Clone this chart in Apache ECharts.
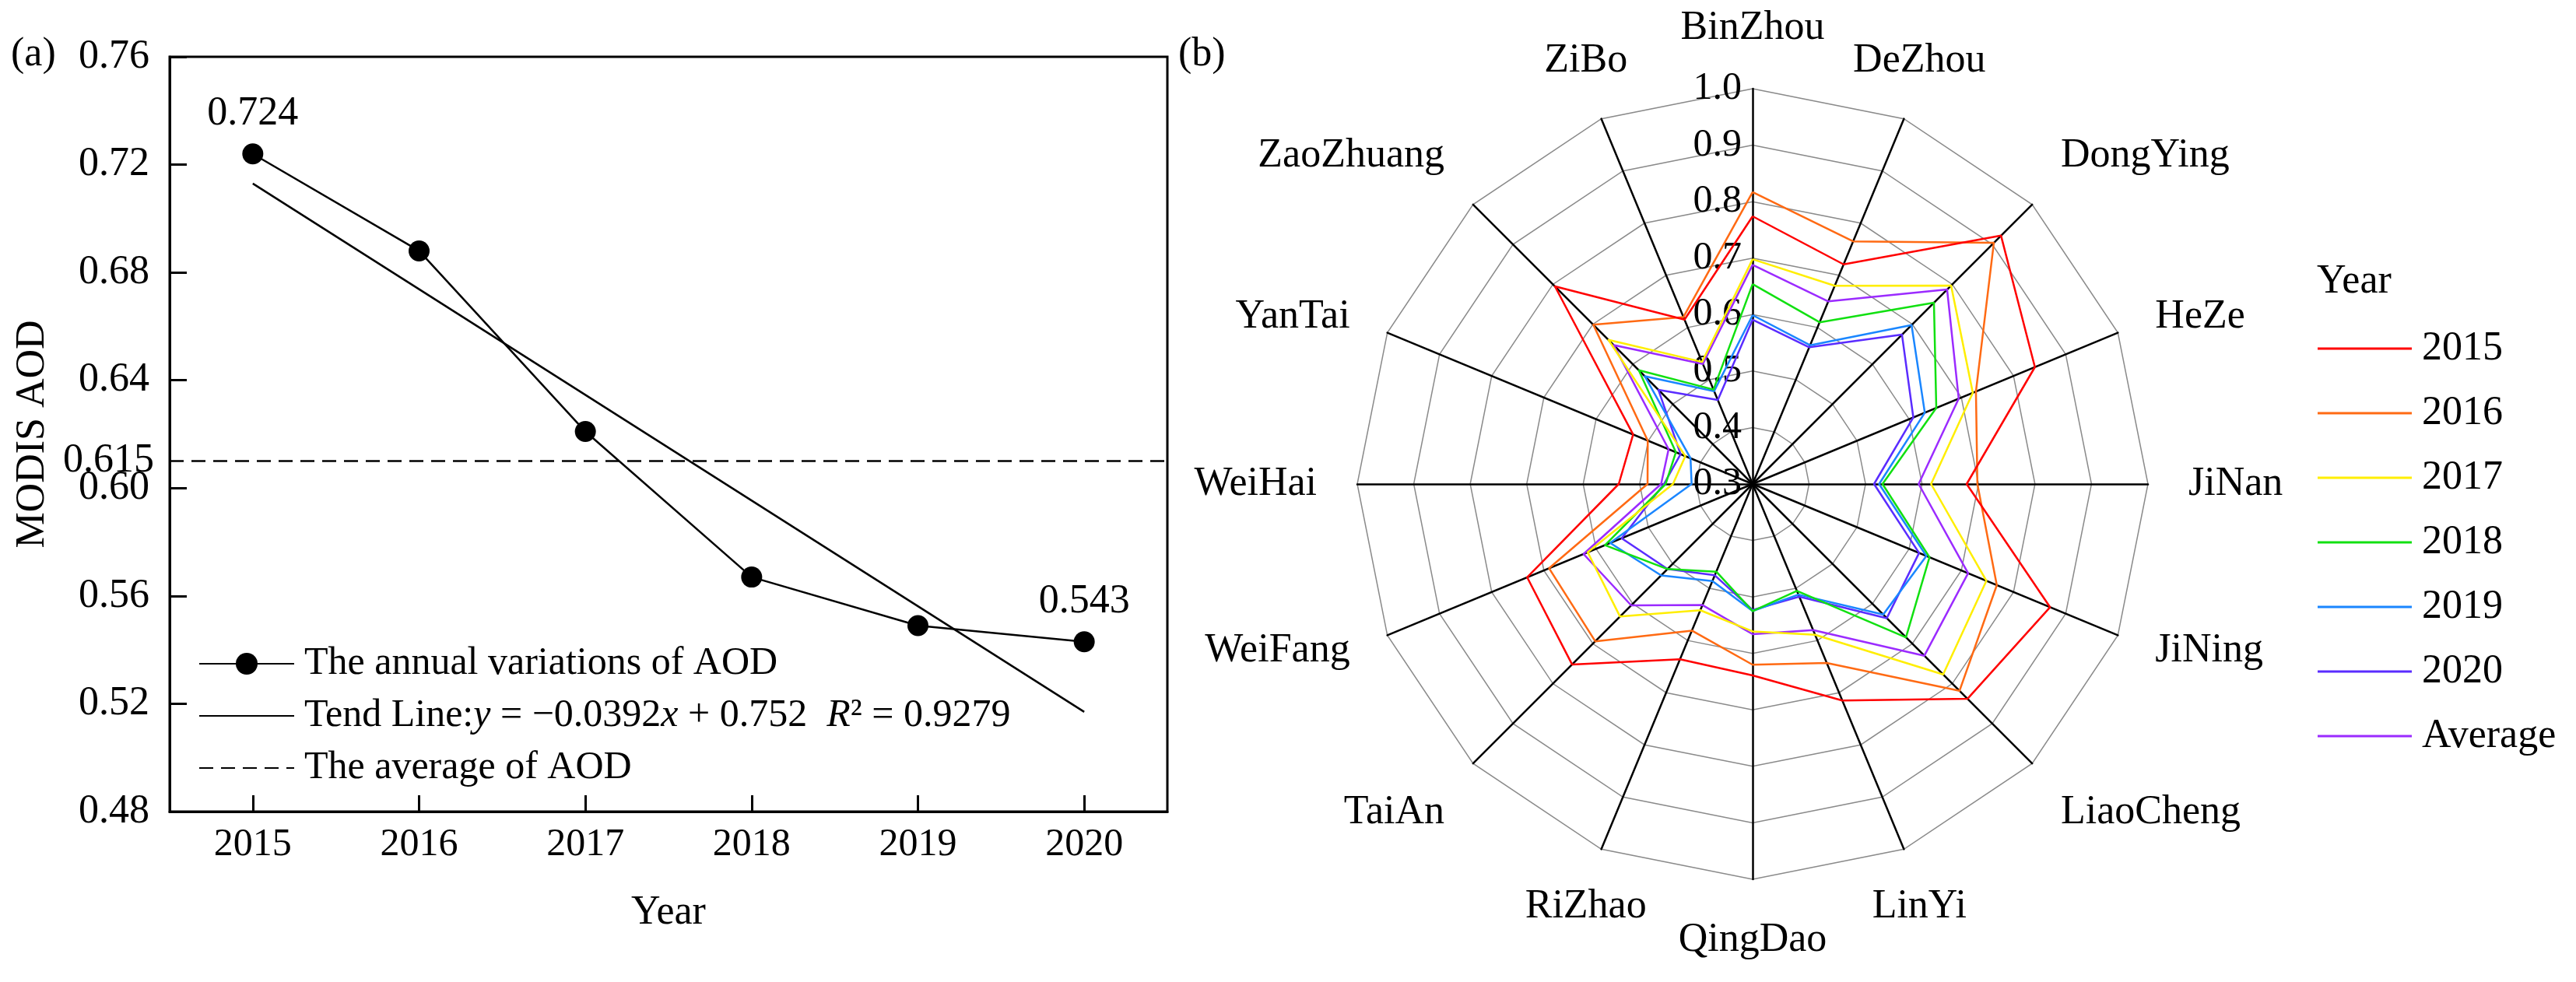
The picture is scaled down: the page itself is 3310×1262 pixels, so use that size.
<!DOCTYPE html>
<html>
<head>
<meta charset="utf-8">
<script src="https://cdn.jsdelivr.net/npm/echarts@6.0.0/dist/echarts.min.js"></script>
<style>
html,body{margin:0;padding:0;background:#fff;}
#chart{width:3310px;height:1262px;}
</style>
</head>
<body>
<div id="chart"></div>
<script>
// ---------- Panel (a) data ----------
const years = ['2015', '2016', '2017', '2018', '2019', '2020'];
const aodValues = [0.724, 0.688, 0.621, 0.567, 0.549, 0.543];
const trendValues = [0.713, null, null, null, null, 0.517];
const aodAverage = 0.615;
const yMin = 0.48, yMax = 0.76, yStep = 0.04;

// ---------- Panel (b) data (clockwise from top) ----------
const cities = ['BinZhou', 'DeZhou', 'DongYing', 'HeZe', 'JiNan', 'JiNing', 'LiaoCheng', 'LinYi',
  'QingDao', 'RiZhao', 'TaiAn', 'WeiFang', 'WeiHai', 'YanTai', 'ZaoZhuang', 'ZiBo'];
const radarNames = ['2015', '2016', '2017', '2018', '2019', '2020', 'Average'];
const aod2015 = [0.774, 0.721, 0.922, 0.841, 0.679, 0.870, 0.838, 0.715, 0.639, 0.636, 0.752, 0.732, 0.537, 0.529, 0.795, 0.615];
const aod2016 = [0.817, 0.765, 0.904, 0.728, 0.698, 0.768, 0.818, 0.643, 0.620, 0.581, 0.694, 0.690, 0.486, 0.501, 0.699, 0.620];
const aod2017 = [0.698, 0.680, 0.797, 0.722, 0.616, 0.748, 0.777, 0.589, 0.561, 0.542, 0.632, 0.616, 0.441, 0.429, 0.661, 0.534];
const aod2018 = [0.654, 0.610, 0.754, 0.652, 0.530, 0.639, 0.684, 0.505, 0.525, 0.468, 0.513, 0.583, 0.454, 0.447, 0.585, 0.481];
const aod2019 = [0.599, 0.566, 0.698, 0.630, 0.524, 0.633, 0.627, 0.512, 0.525, 0.486, 0.529, 0.573, 0.408, 0.419, 0.570, 0.478];
const aod2020 = [0.591, 0.562, 0.674, 0.608, 0.515, 0.619, 0.636, 0.516, 0.523, 0.475, 0.513, 0.551, 0.457, 0.438, 0.536, 0.461];
const aodMean = [0.688, 0.650, 0.787, 0.695, 0.594, 0.713, 0.730, 0.580, 0.566, 0.532, 0.604, 0.624, 0.462, 0.461, 0.648, 0.530];
const radarMin = 0.3, radarMax = 1.0;

const radarSeriesValues = [aod2015, aod2016, aod2017, aod2018, aod2019, aod2020, aodMean];
const radarColors = ['#ff0000', '#ff6a13', '#ffee00', '#11e011', '#1a86ff', '#5a2cff', '#9b2bff'];

const FONT = "'Liberation Serif', 'Times New Roman', serif";

// ECharts radar runs counter-clockwise; reorder to get clockwise layout
const order = [0];
for (let i = cities.length - 1; i >= 1; i--) order.push(i);
const reorder = arr => order.map(i => arr[i]);

const indicators = order.map((ci, j) => {
  const ang = (90 + 360 / cities.length * j) * Math.PI / 180;
  const c = Math.cos(ang), s = Math.sin(ang);
  const align = Math.abs(c) < 0.5 ? 'center' : (c > 0 ? 'left' : 'right');
  const vAlign = s > 0.5 ? 'bottom' : (s < -0.5 ? 'top' : 'middle');
  const ind = {
    name: cities[ci], min: radarMin, max: radarMax,
    nameTextStyle: { align: align, verticalAlign: vAlign }
  };
  if (j === 0) ind.axisLabel = { show: true };
  return ind;
});

const chart = echarts.init(document.getElementById('chart'), null, { renderer: 'canvas' });

const option = {
  backgroundColor: '#fff',
  animation: false,
  textStyle: { fontFamily: FONT, color: '#000' },
  graphic: [
    { type: 'text', left: 14, top: 44, style: { text: '(a)', font: "52px " + FONT, fill: '#000' } },
    { type: 'text', left: 1514, top: 44, style: { text: '(b)', font: "52px " + FONT, fill: '#000' } },
    { type: 'text', left: 2977, top: 336, style: { text: 'Year', font: "52px " + FONT, fill: '#000' } }
  ],
  grid: {
    left: 218, top: 73, width: 1282, height: 970,
    show: true, borderColor: '#000', borderWidth: 3, backgroundColor: 'transparent'
  },
  xAxis: {
    type: 'category', data: years, boundaryGap: true,
    name: 'Year', nameLocation: 'middle', nameGap: 104,
    nameTextStyle: { fontFamily: FONT, fontSize: 52, color: '#000' },
    axisLine: { lineStyle: { color: '#000', width: 3 } },
    axisTick: { show: true, inside: true, alignWithLabel: true, length: 21, lineStyle: { color: '#000', width: 3 } },
    axisLabel: { fontFamily: FONT, fontSize: 50, color: '#000', margin: 18 },
    splitLine: { show: false }
  },
  yAxis: {
    type: 'value', min: yMin, max: yMax, interval: yStep,
    name: 'MODIS AOD', nameLocation: 'middle', nameGap: 150, nameRotate: 90,
    nameTextStyle: { fontFamily: FONT, fontSize: 52, color: '#000' },
    axisLine: { show: true, lineStyle: { color: '#000', width: 3 } },
    axisTick: { show: true, inside: true, length: 22, lineStyle: { color: '#000', width: 3 } },
    axisLabel: { fontFamily: FONT, fontSize: 52, color: '#000', margin: 26, formatter: v => v.toFixed(2) },
    splitLine: { show: false }
  },
  radar: {
    center: [2252, 622], radius: 508, startAngle: 90, splitNumber: 7, shape: 'polygon',
    indicator: indicators,
    nameGap: 52,
    axisName: { color: '#000', fontFamily: FONT, fontSize: 52 },
    axisLine: { lineStyle: { color: '#000', width: 2.5 } },
    splitLine: { lineStyle: { color: '#8a8a8a', width: 1.5 } },
    splitArea: { show: false },
    axisTick: { show: false },
    axisLabel: { show: false, color: '#000', fontFamily: FONT, fontSize: 50, margin: 14, formatter: v => Number(v).toFixed(1) }
  },
  legend: [
    {
      data: [
        { name: 'The annual variations of AOD' },
        { name: 'Tend Line', itemStyle: { opacity: 0 } },
        { name: 'The average of AOD', itemStyle: { opacity: 0 } }
      ],
      orient: 'vertical', left: 250, top: 822,
      itemWidth: 122, itemHeight: 35, itemGap: 15,
      selectedMode: false,
      textStyle: {
        fontFamily: FONT, fontSize: 50, color: '#000', lineHeight: 52, padding: [0, 0, 0, 8],
        rich: {
          n: { fontFamily: FONT, fontSize: 50, color: '#000', lineHeight: 52 },
          i: { fontFamily: FONT, fontSize: 50, color: '#000', fontStyle: 'italic', lineHeight: 52 }
        }
      },
      formatter: name => name === 'Tend Line'
        ? '{n|Tend Line:}{i|y}{n| = \u22120.0392}{i|x}{n| + 0.752  }{i|R}{n|\u00b2 = 0.9279}'
        : name
    },
    {
      data: radarNames,
      orient: 'vertical', left: 2973, top: 417,
      itemWidth: 121, itemHeight: 3, itemGap: 31,
      icon: 'rect',
      selectedMode: false,
      textStyle: { fontFamily: FONT, fontSize: 52, color: '#000', lineHeight: 52, padding: [0, 0, 0, 8] }
    }
  ],
  series: [
    {
      name: 'The annual variations of AOD', type: 'line',
      data: aodValues.map((v, i) => ({
        value: v,
        label: { show: i === 0 || i === aodValues.length - 1 }
      })),
      symbol: 'circle', symbolSize: 27,
      itemStyle: { color: '#000' },
      lineStyle: { color: '#000', width: 2.5 },
      label: {
        position: 'top', distance: 12, fontFamily: FONT, fontSize: 52, color: '#000',
        formatter: p => Number(p.value).toFixed(3)
      },
      z: 5
    },
    {
      name: 'Tend Line', type: 'line', data: trendValues, connectNulls: true,
      symbol: 'none',
      itemStyle: { color: '#000' },
      lineStyle: { color: '#000', width: 2.5 },
      z: 4
    },
    {
      name: 'The average of AOD', type: 'line', data: [],
      symbol: 'none',
      itemStyle: { color: '#000' },
      lineStyle: { color: '#000', width: 2.5, type: [18, 10] },
      markLine: {
        silent: true, symbol: ['none', 'none'],
        lineStyle: { color: '#000', width: 2.5, type: [18, 10] },
        label: {
          show: true, position: 'start', distance: 20,
          fontFamily: FONT, fontSize: 52, color: '#000',
          formatter: () => aodAverage.toFixed(3)
        },
        data: [{ yAxis: aodAverage }]
      },
      z: 3
    }
  ].concat(radarNames.map((nm, k) => ({
    name: nm, type: 'radar',
    symbol: 'none',
    itemStyle: { color: radarColors[k] },
    lineStyle: { color: radarColors[k], width: 2.5 },
    data: [{ name: nm, value: reorder(radarSeriesValues[k]) }],
    z: 10 - k
  })))
};

chart.setOption(option);
</script>
</body>
</html>
